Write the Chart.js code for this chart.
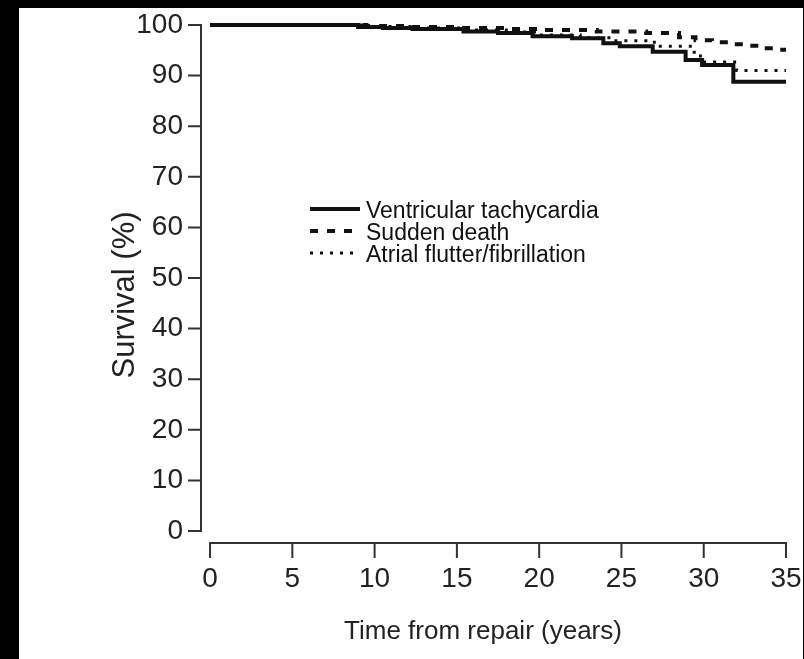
<!DOCTYPE html>
<html>
<head>
<meta charset="utf-8">
<script src="https://cdn.jsdelivr.net/npm/chart.js@4"></script>
<style>
  html, body { margin: 0; padding: 0; background: #000; }
  #panel { position: absolute; left: 19px; top: 8px; width: 784px; height: 651px; background: #fff; }
  canvas { display: block; }
</style>
</head>
<body>
<div id="panel"><canvas id="kmChart" width="784" height="651"></canvas></div>
<script>
// Kaplan-Meier style survival curves, years after repair
const vtTimes    = [0, 9.0, 10.5, 12.3, 15.4, 17.5, 19.6, 22.0, 23.9, 24.9, 26.9, 28.9, 29.9, 31.8, 35];
const vtSurvival = [100, 99.6, 99.4, 99.2, 98.7, 98.4, 97.8, 97.4, 96.4, 95.8, 94.7, 93.1, 92.1, 88.8, 88.8];

const sdTimes    = [0, 9.5, 12, 15, 18, 20, 23.5, 26.5, 28.5, 29.5, 30.5, 31.5, 32.5, 33.5, 34.5, 35];
const sdSurvival = [100, 99.8, 99.6, 99.4, 99.2, 99.0, 98.7, 98.4, 97.6, 97.0, 96.6, 96.2, 95.9, 95.4, 95.1, 95.1];

const afTimes    = [0, 9.5, 12.5, 15.5, 18, 20, 22.5, 24.5, 27, 29.3, 29.8, 32.0, 35];
const afSurvival = [100, 99.7, 99.4, 99.0, 98.6, 98.0, 97.5, 96.9, 95.8, 94.6, 92.7, 91.0, 91.0];

const seriesLabels = ["Ventricular tachycardia", "Sudden death", "Atrial flutter/fibrillation"];
const xTicks = [0, 5, 10, 15, 20, 25, 30, 35];
const yTicks = [0, 10, 20, 30, 40, 50, 60, 70, 80, 90, 100];
const xTitle = "Time from repair (years)";
const yTitle = "Survival (%)";

const toPoints = (xs, ys) => xs.map((t, i) => ({ x: t, y: ys[i] }));
const ink = "#111";
const axisInk = "#333";
const textInk = "#222";
const family = "'Liberation Sans', Arial, sans-serif";

// R-style axes: lines and tick marks only span the data range, plus the axis titles
const axisLines = {
  id: "axisLines",
  beforeDatasetsDraw(chart, args, opts) {
    const { ctx, chartArea, scales: { x, y } } = chart;
    const left = chartArea.left, bottom = chartArea.bottom;
    ctx.save();
    ctx.strokeStyle = axisInk;
    ctx.lineWidth = 2;
    ctx.beginPath();
    ctx.moveTo(left, y.getPixelForValue(0) + 1);
    ctx.lineTo(left, y.getPixelForValue(100) - 1);
    ctx.moveTo(x.getPixelForValue(0) - 1, bottom);
    ctx.lineTo(x.getPixelForValue(35) + 1, bottom);
    yTicks.forEach(v => {
      const py = y.getPixelForValue(v);
      ctx.moveTo(left - opts.yTickLen, py);
      ctx.lineTo(left, py);
    });
    xTicks.forEach(v => {
      const px = x.getPixelForValue(v);
      ctx.moveTo(px, bottom);
      ctx.lineTo(px, bottom + opts.xTickLen);
    });
    ctx.stroke();

    ctx.fillStyle = textInk;
    ctx.textAlign = "center";
    ctx.textBaseline = "middle";
    ctx.font = opts.xFont;
    ctx.fillText(xTitle, opts.xTitleX, opts.xTitleY);
    ctx.translate(opts.yTitleX, opts.yTitleY);
    ctx.rotate(-Math.PI / 2);
    ctx.font = opts.yFont;
    ctx.fillText(yTitle, 0, 0);
    ctx.restore();
  }
};

// legend drawn inside the plot
const insideLegend = {
  id: "insideLegend",
  afterDraw(chart, args, opts) {
    const { ctx } = chart;
    ctx.save();
    ctx.font = opts.font;
    ctx.fillStyle = ink;
    ctx.textBaseline = "middle";
    chart.data.datasets.forEach((ds, i) => {
      const y = opts.top + i * opts.rowGap;
      ctx.strokeStyle = ink;
      ctx.lineWidth = ds.borderWidth;
      ctx.setLineDash(ds.borderDash || []);
      ctx.beginPath();
      ctx.moveTo(opts.left, y);
      ctx.lineTo(opts.left + opts.sample, y);
      ctx.stroke();
      ctx.fillText(ds.label, opts.left + opts.sample + opts.gap, y + 3);
    });
    ctx.restore();
  }
};

const ctx = document.getElementById("kmChart").getContext("2d");
new Chart(ctx, {
  type: "line",
  data: {
    datasets: [
      { label: seriesLabels[0], data: toPoints(vtTimes, vtSurvival), borderColor: ink, borderWidth: 4, stepped: true, clip: 6 },
      { label: seriesLabels[1], data: toPoints(sdTimes, sdSurvival), borderColor: ink, borderWidth: 4, borderDash: [8, 9], stepped: true, clip: 6 },
      { label: seriesLabels[2], data: toPoints(afTimes, afSurvival), borderColor: ink, borderWidth: 3, borderDash: [3, 7], stepped: true, clip: 6 }
    ]
  },
  options: {
    responsive: false,
    animation: false,
    layout: { padding: { top: 17, right: 17, left: 0, bottom: 0 } },
    elements: { point: { radius: 0 }, line: { tension: 0 } },
    plugins: {
      legend: { display: false },
      tooltip: { enabled: false },
      axisLines: {
        xTickLen: 15, yTickLen: 13,
        xTitleX: 464, xTitleY: 624, yTitleX: 106, yTitleY: 287,
        xFont: "26px " + family, yFont: "31px " + family
      },
      insideLegend: { left: 291, top: 201, rowGap: 22, sample: 50, gap: 6, font: "23px " + family }
    },
    scales: {
      x: {
        type: "linear",
        min: -0.55,
        max: 35,
        afterBuildTicks: s => { s.ticks = xTicks.map(v => ({ value: v })); },
        afterFit: s => { s.height = 116; },
        border: { display: false },
        grid: { display: false, drawTicks: true, tickLength: 19 },
        ticks: { color: textInk, padding: 0, font: { family, size: 28 } }
      },
      y: {
        min: -2.37,
        max: 100,
        afterBuildTicks: s => { s.ticks = yTicks.map(v => ({ value: v })); },
        afterFit: s => { s.width = 182; },
        border: { display: false },
        grid: { display: false, drawTicks: true, tickLength: 18 },
        ticks: { color: textInk, padding: 0, font: { family, size: 28, lineHeight: 1 } }
      }
    }
  },
  plugins: [axisLines, insideLegend]
});
</script>
</body>
</html>
